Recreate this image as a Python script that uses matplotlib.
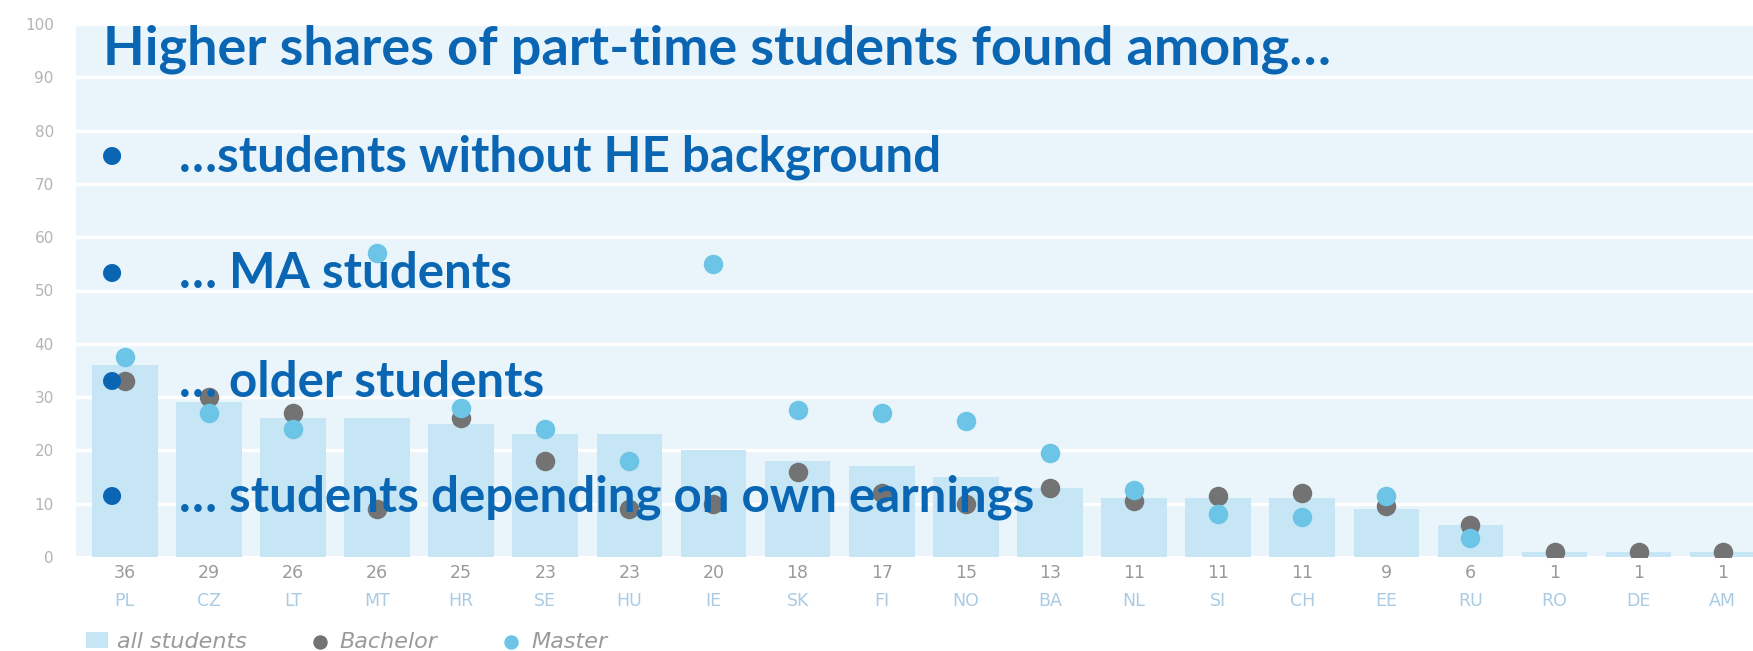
import matplotlib.pyplot as plt
import numpy as np

# data
countries = ["PL", "CZ", "LT", "MT", "HR", "SE", "HU", "IE", "SK", "FI",
             "NO", "BA", "NL", "SI", "CH", "EE", "RU", "RO", "DE", "AM"]
all_students = [36, 29, 26, 26, 25, 23, 23, 20, 18, 17, 15, 13, 11, 11, 11, 9, 6, 1, 1, 1]
bachelor = [33, 30, 27, 9, 26, 18, 9, 10, 16, 12, 10, 13, 10.5, 11.5, 12, 9.5, 6, 1, 1, 1]
master = [37.5, 27, 24, 57, 28, 24, 18, 55, 27.5, 27, 25.5, 19.5, 12.5, 8, 7.5, 11.5, 3.5,
          np.nan, np.nan, np.nan]

title = "Higher shares of part-time students found among…"
bullets = ["…students without HE background",
           "… MA students",
           "… older students",
           "… students depending on own earnings"]

x = np.arange(len(countries))

fig = plt.figure(figsize=(17.53, 6.51), dpi=100)
ax = fig.add_axes([76 / 1753, 1 - 557 / 651, 1 - 76 / 1753, (557 - 24) / 651])
ax.set_facecolor("#e9f4fb")

bars = ax.bar(x, all_students, width=0.78, color="#c6e5f5", zorder=2, label="all students")
sb = ax.scatter(x, bachelor, s=170, color="#737373", zorder=3, label="Bachelor")
sm = ax.scatter(x, master, s=170, color="#6cc5e6", zorder=4, label="Master")

ax.set_xlim(-0.58, 19.36)
ax.set_ylim(0, 100)
ax.set_yticks(range(0, 101, 10))
ax.tick_params(axis="y", length=0, pad=16, labelsize=11, labelcolor="#b4b4b4")
ax.set_xticks([])
ax.grid(axis="y", color="white", linewidth=2.5, zorder=1)
for s in ax.spines.values():
    s.set_visible(False)

# value and country labels under the bars
for xi, v, c in zip(x, all_students, countries):
    ax.text(xi, -3, str(v), ha="center", va="center", fontsize=12.5,
            color="#9a9a9a", clip_on=False)
    ax.text(xi, -8.3, c, ha="center", va="center", fontsize=12.5,
            color="#a9cbe3", clip_on=False)

leg = fig.legend([bars, sb, sm], ["all students", "Bachelor", "Master"],
                 loc="center left", bbox_to_anchor=(70 / 1753, 0.014), ncol=3,
                 frameon=False, fontsize=16, columnspacing=2.8, handletextpad=0.4,
                 handlelength=1.0, markerscale=0.72, borderpad=0.2)
for t in leg.get_texts():
    t.set_color("#9a9a9a")
    t.set_fontstyle("italic")

# overlaid slide text
blue = "#0a66b2"
fig.text(103 / 1753, 1 - 49 / 651, title, fontsize=39, fontweight="bold",
         family="Lato", color=blue, va="center", zorder=10)
ys = [157, 274, 382, 497]
for y, b in zip(ys, bullets):
    fig.text(100 / 1753, 1 - y / 651, "•", fontsize=30, fontweight="bold",
             family="Lato", color=blue, va="center", zorder=10)
    fig.text(179 / 1753, 1 - y / 651, b, fontsize=35.5, fontweight="bold",
             family="Lato", color=blue, va="center", zorder=10)

fig.savefig("out.png", dpi=100)
